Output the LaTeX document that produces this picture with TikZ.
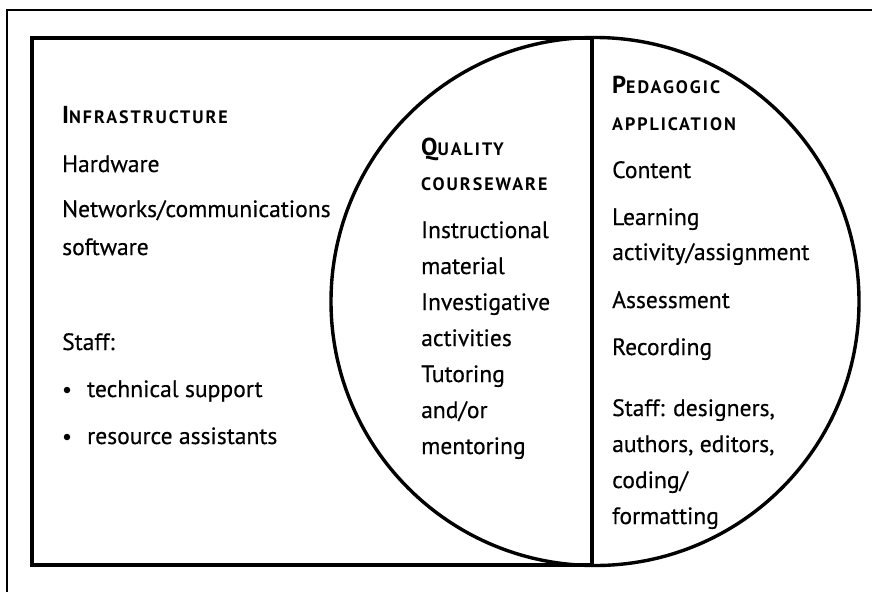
\documentclass[tikz,border=0pt]{standalone}
\usepackage{fontspec}
\setmainfont[UprightFeatures={FakeBold=0.4}]{PT Sans}
\newfontfamily\headfont[LetterSpace=11.0]{PT Sans}
\newcommand{\bodysz}{\fontsize{23.6}{28}\selectfont}
\newcommand{\hbig}{\fontsize{24.5}{28}\selectfont}
\newcommand{\hsmall}{\fontsize{18}{21}\selectfont}
\newcommand{\hd}[2]{{\headfont\bfseries\hbig #1\hsmall #2}}
\tikzset{
  txt/.style={anchor=base west, inner sep=0pt, font=\bodysz},
  heavy/.style={line width=3.4pt},
  thin/.style={line width=1.3pt},
  bul/.style={circle, fill=black, inner sep=0pt, minimum size=6.5pt}
}
\begin{document}
\begin{tikzpicture}[x=1pt,y=-1pt]
\useasboundingbox (0,0) rectangle (872,592);
% outer frame (partially visible)
\draw[thin] (7,592) -- (7,10) -- (872,10);
% inner rectangle and circle
\draw[heavy, line join=miter] (592,38) -- (32,38) -- (32,565) -- (592,565);
\draw[heavy] (592,38) -- (592,565);
\draw[heavy] (595,301.5) circle [radius=264];
% left column
\node[txt] (l0) at (62,123) {\hd{I}{NFRASTRUCTURE}};
\node[txt] (l1) at (62,172) {Hardware};
\node[txt] (l2) at (62,217) {Networks/communications};
\node[txt] (l3) at (62,255) {software};
\node[txt] (l4) at (62,350) {Staff:};
\node[bul] (b1) at (67,390) {};
\node[txt] (l5) at (87,397) {technical support};
\node[bul] (b2) at (67,437) {};
\node[txt] (l6) at (87,444) {resource assistants};
% middle column
\node[txt] (m0) at (421,155) {\hd{Q}{UALITY}};
\node[txt] (m1) at (421,190) {\hd{}{COURSEWARE}};
\node[txt] (m2) at (421,238) {Instructional};
\node[txt] (m3) at (421,274) {material};
\node[txt] (m4) at (421,310) {Investigative};
\node[txt] (m5) at (421,346) {activities};
\node[txt] (m6) at (421,382) {Tutoring};
\node[txt] (m7) at (421,418) {and/or};
\node[txt] (m8) at (421,454) {mentoring};
% right column
\node[txt] (r0) at (612,93) {\hd{P}{EDAGOGIC}};
\node[txt] (r1) at (612,130) {\hd{}{APPLICATION}};
\node[txt] (r2) at (612,178) {Content};
\node[txt] (r3) at (612,225) {Learning};
\node[txt] (r4) at (612,260) {activity/assignment};
\node[txt] (r5) at (612,308) {Assessment};
\node[txt] (r6) at (612,355) {Recording};
\node[txt] (r7) at (612,416) {Staff: designers,};
\node[txt] (r8) at (612,452) {authors, editors,};
\node[txt] (r9) at (612,488) {coding/};
\node[txt] (r10) at (612,524) {formatting};
\end{tikzpicture}
\end{document}
